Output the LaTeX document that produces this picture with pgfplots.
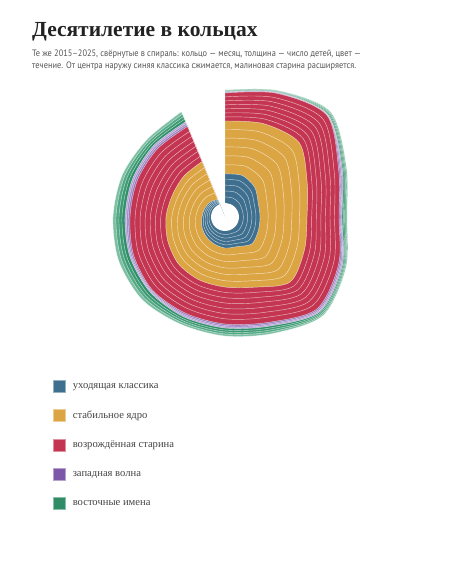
\documentclass[border=0pt]{standalone}
\usepackage{fontspec}
\setmainfont{Liberation Serif}
\newfontfamily\sansfont[FakeStretch=0.9]{PT Sans}
\usepackage{pgfplots}
\usepackage{pgfplotstable}
\pgfplotsset{compat=1.18}
\usepgfplotslibrary{polar}

\definecolor{titlec}{HTML}{222222}
\definecolor{subc}{HTML}{555555}
\definecolor{legc}{HTML}{444444}
\definecolor{blueC}{HTML}{3E6F8F}
\definecolor{goldC}{HTML}{DCA544}
\definecolor{redC}{HTML}{C43551}
\definecolor{purpleC}{HTML}{7E58A8}
\definecolor{greenC}{HTML}{2F8C64}

% ring colours, inner to outer
\pgfplotsforeachungrouped \c in {b1,b2,b3,b4,b5}{\colorlet{col\c}{blueC}}
\pgfplotsforeachungrouped \c in {g1,g2,g3,g4,g5,g6}{\colorlet{col\c}{goldC}}
\pgfplotsforeachungrouped \c in {c1,c2,c3,c4,c5,c6,c7}{\colorlet{col\c}{redC}}
\definecolor{colp1}{HTML}{9277BD}
\definecolor{colp2}{HTML}{A28AC8}
\definecolor{colp3}{HTML}{B3A0D4}
\definecolor{cole1}{HTML}{2E9068}
\definecolor{cole2}{HTML}{3C9A74}
\definecolor{cole3}{HTML}{53A884}
\definecolor{cole4}{HTML}{7CBFA3}

% t = position along the year (degrees clockwise from the top),
% every other column = thickness of one ring at that position
\pgfplotstableread{
t     hole b1  b2  b3  b4  b5  g1   g2   g3   g4   g5   g6   c1  c2  c3  c4  c5  c6  c7  p1  p2  p3  e1  e2  e3  e4
0     14   6.1 5.9 5.8 5.7 5.5 9.2  9.0  8.9  8.8  8.6  8.5  4.1 4.0 4.0 4.0 4.0 4.0 3.9 0.4 0.3 0.3 0.5 0.5 0.5 0.5
22.5  14   6.5 6.4 6.2 6.0 5.9 9.7  9.5  9.4  9.3  9.1  9.0  4.8 4.7 4.7 4.7 4.7 4.7 4.7 0.4 0.3 0.3 0.5 0.5 0.5 0.5
45    14   5.9 5.7 5.6 5.5 5.3 10.8 10.6 10.5 10.4 10.4 10.3 5.7 5.6 5.6 5.6 5.5 5.5 5.5 0.4 0.3 0.3 1.0 1.0 1.0 1.0
67.5  14   4.6 4.5 4.4 4.3 4.2 9.2  9.0  8.9  8.8  8.6  8.5  4.9 4.9 4.9 4.9 4.8 4.8 4.8 1.4 1.3 1.3 1.1 1.1 1.1 1.1
90    14   4.4 4.3 4.2 4.1 4.0 8.1  8.0  7.9  7.8  7.7  7.5  4.7 4.6 4.6 4.6 4.5 4.5 4.5 1.0 1.0 1.0 1.3 1.3 1.2 1.2
112.5 14   4.6 4.5 4.4 4.3 4.2 8.6  8.5  8.4  8.3  8.2  8.0  5.4 5.3 5.3 5.3 5.3 5.2 5.2 1.4 1.3 1.3 1.0 1.0 1.0 1.0
135   14   5.0 4.9 4.8 4.7 4.6 9.3  9.2  9.1  9.0  8.8  8.6  5.5 5.5 5.4 5.4 5.4 5.4 5.4 1.4 1.3 1.3 1.3 1.3 1.2 1.2
157.5 14   3.8 3.7 3.6 3.5 3.4 7.6  7.5  7.4  7.3  7.2  7.0  5.5 5.5 5.4 5.4 5.4 5.4 5.4 1.4 1.3 1.3 2.0 2.0 2.0 2.0
180   14   3.6 3.5 3.4 3.3 3.2 6.8  6.6  6.5  6.4  6.4  6.3  5.4 5.3 5.3 5.3 5.3 5.2 5.2 1.4 1.3 1.3 2.0 2.0 2.0 2.0
202.5 14   3.2 3.1 3.0 2.9 2.8 6.8  6.6  6.5  6.4  6.4  6.3  5.2 5.2 5.2 5.1 5.1 5.1 5.1 1.4 1.3 1.3 2.0 2.0 2.0 2.0
225   14   2.8 2.7 2.6 2.5 2.4 6.8  6.6  6.5  6.4  6.4  6.3  5.4 5.3 5.3 5.3 5.3 5.2 5.2 1.0 1.0 1.0 2.8 2.8 2.7 2.7
247.5 14   2.4 2.3 2.2 2.1 2.0 6.4  6.3  6.2  6.1  6.0  6.0  5.4 5.3 5.3 5.3 5.3 5.2 5.2 1.4 1.3 1.3 3.0 3.0 3.0 3.0
270   14   2.0 1.9 1.8 1.7 1.6 6.2  6.1  6.0  6.0  5.9  5.8  5.2 5.2 5.2 5.1 5.1 5.1 5.1 1.7 1.7 1.6 3.0 3.0 3.0 3.0
292.5 14   1.8 1.7 1.6 1.5 1.4 6.0  5.9  5.9  5.8  5.7  5.7  5.5 5.5 5.4 5.4 5.4 5.4 5.4 1.7 1.7 1.6 2.8 2.8 2.7 2.7
315   14   1.6 1.5 1.4 1.3 1.2 6.4  6.3  6.2  6.1  6.0  6.0  5.5 5.5 5.4 5.4 5.4 5.4 5.4 1.7 1.7 1.6 2.3 2.3 2.2 2.2
337.5 14   1.2 1.1 1.0 0.9 0.8 7.1  7.0  6.9  6.8  6.6  6.6  5.5 5.5 5.4 5.4 5.4 5.4 5.4 1.7 1.7 1.6 2.8 2.8 2.7 2.7
}\rings

% outer radius of every ring: rings are stacked from the hole outwards
\def\prevcol{hole}
\pgfplotsforeachungrouped \c in {b1,b2,b3,b4,b5,g1,g2,g3,g4,g5,g6,c1,c2,c3,c4,c5,c6,c7,p1,p2,p3,e1,e2,e3,e4}{%
  \edef\next{\noexpand\pgfplotstablecreatecol[expr={\noexpand\thisrow{\prevcol}+\noexpand\thisrow{\c}}]{R\c}\noexpand\rings}%
  \next
  \edef\prevcol{R\c}%
}

\pgfplotsset{
  ring/.style={smooth, forget plot, draw=white, draw opacity=0.65, line width=0.45bp},
  legsq/.style={legend image code/.code={\draw[##1] (0bp,-6bp) rectangle (12bp,6bp);}},
}

\begin{document}
\begin{tikzpicture}
\path[use as bounding box, fill=white] (0,0) rectangle (450bp,-585bp);

\node[anchor=base west, inner sep=0pt, text=titlec,
      font=\fontsize{21.5bp}{25bp}\selectfont\bfseries] at (32bp,-36bp) {Десятилетие в кольцах};
\node[anchor=base west, inner sep=0pt, text=subc,
      font=\sansfont\fontsize{9.3bp}{11.7bp}\selectfont] at (32bp,-56.7bp)
      {Те же 2015–2025, свёрнутые в спираль: кольцо — месяц, толщина — число детей, цвет —};
\node[anchor=base west, inner sep=0pt, text=subc,
      font=\sansfont\fontsize{9.3bp}{11.7bp}\selectfont] at (32bp,-68.3bp)
      {течение. От центра наружу синяя классика сжимается, малиновая старина расширяется.};

\begin{polaraxis}[
  at={(225bp,-217bp)}, anchor=center,
  scale only axis, width=290bp, height=290bp,
  xmin=-270, xmax=90, ymin=0, ymax=145,
  hide axis, clip=false,
  x filter/.expression={90-x},
  legend style={at={(axis description cs:-0.0931,-0.0621)}, anchor=north west,
    draw=none, fill=none, inner sep=0pt, outer sep=0pt,
    font=\fontsize{10.6bp}{13bp}\selectfont, text=legc,
    row sep=16.5bp, nodes={inner sep=0pt},
    /tikz/every odd column/.append style={column sep=7bp}},
  legend cell align=left,
]
\pgfplotsinvokeforeach{e4,e3,e2,e1,p3,p2,p1,c7,c6,c5,c4,c3,c2,c1,g6,g5,g4,g3,g2,g1,b5,b4,b3,b2,b1}{
  \addplot[ring, fill=col#1] table[x=t, y=R#1]{\rings} -- (axis cs:0,0) -- cycle;
}
\addplot[smooth, forget plot, fill=white, draw=none] table[x=t, y=hole]{\rings} -- (axis cs:0,0) -- cycle;

\addlegendimage{legsq, fill=blueC, draw=blueC!55!white, line width=0.8bp}
\addlegendentry{уходящая классика}
\addlegendimage{legsq, fill=goldC, draw=goldC!55!white, line width=0.8bp}
\addlegendentry{стабильное ядро}
\addlegendimage{legsq, fill=redC, draw=redC!55!white, line width=0.8bp}
\addlegendentry{возрождённая старина}
\addlegendimage{legsq, fill=purpleC, draw=purpleC!55!white, line width=0.8bp}
\addlegendentry{западная волна}
\addlegendimage{legsq, fill=greenC, draw=greenC!55!white, line width=0.8bp}
\addlegendentry{восточные имена}
\end{polaraxis}
\end{tikzpicture}
\end{document}
